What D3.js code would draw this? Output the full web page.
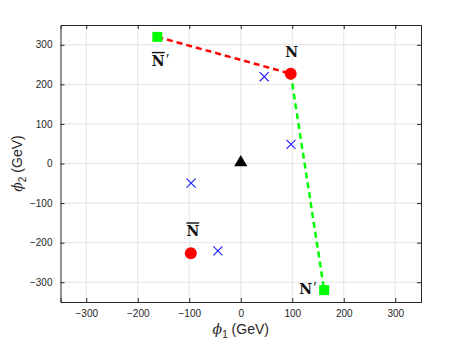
<!DOCTYPE html>
<html>
<head>
<meta charset="utf-8">
<script src="https://cdn.jsdelivr.net/npm/d3@7"></script>
<style>
  body { margin: 0; background: #fff; }
  svg { display: block; }
</style>
</head>
<body>
<script>
const W = 465, H = 349;
const margin = {top: 25, right: 44, bottom: 47, left: 60.5};

/** axis ticks */
const ticks = [-300, -200, -100, 0, 100, 200, 300];

/** named points (GeV) */
const Nbar_p = [-162, 320];
const N = [97, 227];
const Np = [162, -320];
const Nbar = [-97, -227];
const origin = [0, 0];

/** blue crosses */
const crosses = [[45, 220], [97, 49], [-97, -49], [-45, -220]];

/** dashed segments */
const redSeg = [Nbar_p, N];
const greenSeg = [N, Np];

const svg = d3.select('body').append('svg').attr('width', W).attr('height', H);

const x = d3.scaleLinear().domain([-350, 350]).range([margin.left, W - margin.right]);
const y = d3.scaleLinear().domain([-350, 350]).range([H - margin.bottom, margin.top]);

const x0 = x.range()[0], x1 = x.range()[1], y0 = y.range()[0], y1 = y.range()[1];

// grid
const grid = svg.append('g').attr('stroke', '#e3e3e3').attr('stroke-width', 1);
grid.selectAll('.gx').data(ticks).enter().append('line')
  .attr('x1', d => x(d)).attr('x2', d => x(d)).attr('y1', y1).attr('y2', y0);
grid.selectAll('.gy').data(ticks).enter().append('line')
  .attr('y1', d => y(d)).attr('y2', d => y(d)).attr('x1', x0).attr('x2', x1);

// axes
const font = 'Liberation Sans, Arial, sans-serif';
const ax = svg.append('g').attr('transform', `translate(0,${y0})`)
  .call(d3.axisBottom(x).tickValues(ticks).tickSize(-4).tickPadding(10));
const axTop = svg.append('g').attr('transform', `translate(0,${y1})`)
  .call(d3.axisTop(x).tickValues(ticks).tickSize(-4).tickFormat(''));
const ay = svg.append('g').attr('transform', `translate(${x0},0)`)
  .call(d3.axisLeft(y).tickValues(ticks).tickSize(-4).tickPadding(8));
const ayR = svg.append('g').attr('transform', `translate(${x1},0)`)
  .call(d3.axisRight(y).tickValues(ticks).tickSize(-4).tickFormat(''));

[ax, axTop, ay, ayR].forEach(g => {
  g.select('.domain').attr('stroke', '#262626').attr('stroke-width', 1);
  g.selectAll('.tick line').attr('stroke', '#262626');
  g.selectAll('.tick text').attr('fill', '#262626').attr('font-size', 10).attr('font-family', font);
});
ax.selectAll('.tick text').attr('dy', '0.5em');

// dashed lines
const line = d3.line().x(d => x(d[0])).y(d => y(d[1]));
svg.append('path').datum(redSeg).attr('d', line)
  .attr('fill', 'none').attr('stroke', '#ff0000').attr('stroke-width', 2.5).attr('stroke-dasharray', '6,4');
svg.append('path').datum(greenSeg).attr('d', line)
  .attr('fill', 'none').attr('stroke', '#00ff00').attr('stroke-width', 2.5).attr('stroke-dasharray', '6,4');

// crosses
const cross = d3.symbol().type(d3.symbolX).size(55);
svg.append('g').selectAll('path').data(crosses).enter().append('path')
  .attr('d', cross)
  .attr('transform', d => `translate(${x(d[0]) + 0.3},${y(d[1]) + 0.3})`)
  .attr('fill', 'none').attr('stroke', '#1a1aff').attr('stroke-width', 1.1);

// red circles
svg.append('g').selectAll('circle').data([N, Nbar]).enter().append('circle')
  .attr('cx', d => x(d[0])).attr('cy', d => y(d[1])).attr('r', 6)
  .attr('fill', '#ff0000');

// green squares
svg.append('g').selectAll('rect').data([Nbar_p, Np]).enter().append('rect')
  .attr('x', d => x(d[0]) - 5).attr('y', d => y(d[1]) - 5)
  .attr('width', 10).attr('height', 10).attr('fill', '#00ff00');

// black triangle
svg.append('path').attr('d', d3.symbol().type(d3.symbolTriangle).size(75))
  .attr('transform', `translate(${x(origin[0])},${y(origin[1]) - 1})`)
  .attr('fill', '#000');

// point labels
const serif = 'DejaVu Serif, Liberation Serif, serif';
function label(p, dx, dy, txt, over, prime, anchor) {
  const t = svg.append('text')
    .attr('x', x(p[0]) + dx).attr('y', y(p[1]) + dy)
    .attr('font-family', serif).attr('font-weight', 'bold').attr('font-size', 14)
    .attr('text-anchor', anchor || 'middle').attr('fill', '#111');
  const s = t.append('tspan').text(txt);
  if (over) s.attr('text-decoration', 'overline');
  if (prime) t.append('tspan').attr('font-weight', 'normal').attr('font-family', font)
    .attr('dx', 1.5).attr('dy', -2).text('\u2032');
}
label(N, 1, -17, 'N');
label(Nbar, 2, -17, 'N', true);
label(Nbar_p, 3, 29, 'N', true, true);
label(Np, -8, 4, 'N', false, true, 'end');

// axis titles
svg.append('text')
  .attr('x', (x0 + x1) / 2).attr('y', 334)
  .attr('text-anchor', 'middle').attr('font-family', font).attr('font-size', 14).attr('fill', '#262626')
  .call(t => {
    t.append('tspan').attr('font-style', 'italic').attr('font-family', serif).text('\u03d5');
    t.append('tspan').attr('font-size', 10).attr('dy', 4).text('1');
    t.append('tspan').attr('dy', -4).text(' (GeV)');
  });

svg.append('text')
  .attr('transform', `translate(22,${(y0 + y1) / 2}) rotate(-90)`)
  .attr('text-anchor', 'middle').attr('font-family', font).attr('font-size', 14).attr('fill', '#262626')
  .call(t => {
    t.append('tspan').attr('font-style', 'italic').attr('font-family', serif).text('\u03d5');
    t.append('tspan').attr('font-size', 10).attr('dy', 4).text('2');
    t.append('tspan').attr('dy', -4).text(' (GeV)');
  });
</script>
</body>
</html>
